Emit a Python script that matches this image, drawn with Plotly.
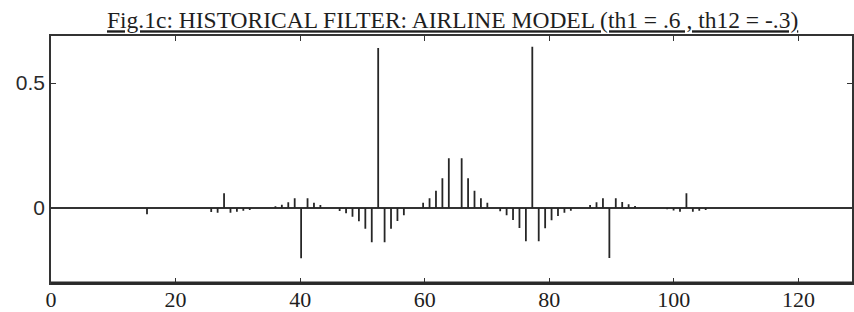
import plotly.graph_objects as go

# ---- data ----
# lag index of each stem (steps from the filter centre) and its weight
lags = [-48, -38, -37, -36, -35, -34, -33, -32,
        -28, -27, -26, -25, -24, -23, -22, -21,
        -18, -17, -16, -15, -14, -13, -12, -11, -10, -9, -8,
        -5, -4, -3, -2, -1, 1, 2, 3, 4, 5,
        7, 8, 9, 10, 11, 12, 13, 14, 15, 16, 17, 18,
        21, 22, 23, 24, 25, 26, 27, 28,
        33, 34, 35, 36, 37, 38, 39]
weights = [-0.025, -0.016, -0.019, 0.059, -0.019, -0.015, -0.011, -0.008,
           0.007, 0.013, 0.023, 0.039, -0.201, 0.039, 0.021, 0.012,
           -0.012, -0.021, -0.035, -0.053, -0.083, -0.137, 0.640, -0.137, -0.083, -0.052, -0.029,
           0.021, 0.039, 0.069, 0.119, 0.199, 0.199, 0.119, 0.069, 0.039, 0.021,
           -0.013, -0.029, -0.048, -0.080, -0.133, 0.645, -0.133, -0.081, -0.049, -0.032, -0.019, -0.011,
           0.012, 0.023, 0.039, -0.200, 0.039, 0.024, 0.015, 0.008,
           -0.005, -0.010, -0.015, 0.059, -0.015, -0.011, -0.008]
x_centre = 64.9      # axis position of lag 0
x_step = 1.031       # axis units per lag step

x_ticks = [0, 20, 40, 60, 80, 100, 120]
y_ticks = [0, 0.5]
y_tick_text = ["0", "0.5"]
title = "Fig.1c: HISTORICAL FILTER: AIRLINE MODEL (th1 = .6 , th12 = -.3)"

# ---- build stems ----
sx, sy = [], []
for k, w in zip(lags, weights):
    xv = x_centre + k * x_step
    sx += [xv, xv, None]
    sy += [0, w, None]

fig = go.Figure()
fig.add_trace(go.Scatter(x=sx, y=sy, mode="lines",
                         line=dict(color="#262626", width=1.8),
                         hoverinfo="skip", showlegend=False))

ink = "#333333"
fig.update_layout(
    width=854, height=312,
    margin=dict(l=51, r=0, t=36, b=29),
    paper_bgcolor="white", plot_bgcolor="white",
    title=dict(text="<u>" + title + "</u>", xref="container", yref="container",
               x=0.53, xanchor="center", y=0.962, yanchor="top",
               font=dict(family="Liberation Serif", size=23.5, color="#1e1e1e")),
    xaxis=dict(range=[0, 128.6], tickvals=x_ticks, ticktext=[str(t) for t in x_ticks],
               showgrid=False, zeroline=False, showline=True, linewidth=1.5,
               linecolor=ink, mirror="ticks", ticks="inside", ticklen=5,
               tickwidth=1.2, tickcolor=ink, ticklabelstandoff=-4,
               tickfont=dict(family="Liberation Serif", size=22, color="#1e1e1e")),
    yaxis=dict(range=[-0.30, 0.688], tickvals=y_ticks, ticktext=y_tick_text,
               showgrid=False, zeroline=True, zerolinecolor="#333333", zerolinewidth=1.6,
               showline=True, linewidth=1.5, linecolor=ink, mirror="ticks",
               ticks="inside", ticklen=5, tickwidth=1.2, tickcolor=ink,
               tickfont=dict(family="Liberation Sans", size=21, color="#2a2a2a")),
    shapes=[dict(type="line", xref="paper", yref="paper", x0=0, x1=1, y0=0, y1=0,
                 line=dict(color="#2a2a2a", width=3))],
)

fig.write_html("out.html", config={"displayModeBar": False},
               post_script="document.body.style.margin='0';document.body.style.overflow='hidden';")
